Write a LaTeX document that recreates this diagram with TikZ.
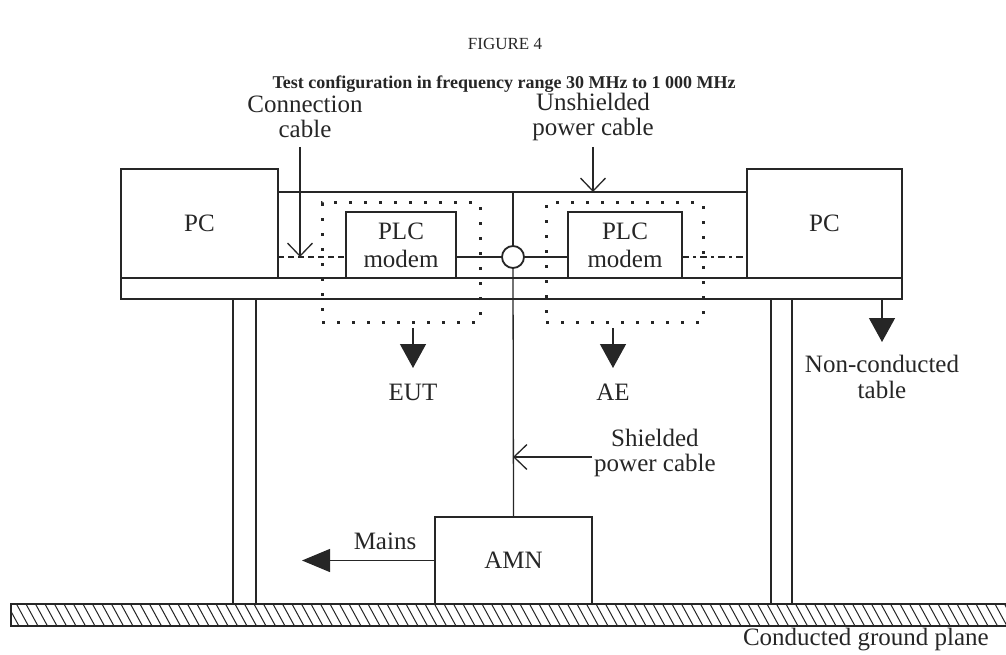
\documentclass[tikz,border=0pt]{standalone}
\usepackage{fontspec}
\setmainfont{Liberation Serif}
\usetikzlibrary{arrows.meta}
\definecolor{ink}{RGB}{38,38,38}
\tikzset{
  lbl/.style={font=\fontsize{25}{25.5}\selectfont, align=center, inner sep=0pt, text=ink},
  box/.style={draw=ink, line width=1.4pt, inner sep=0pt, outer sep=0pt,
              font=\fontsize{25}{28}\selectfont, align=center, text=ink},
  wire/.style={draw=ink, line width=1.3pt},
  pcable/.style={draw=ink, line width=2.8pt},
  dotbox/.style={draw=ink, line width=3pt, dash pattern=on 3pt off 12pt},
  openarrow/.style={-{Straight Barb[length=13pt,width=25pt,line width=1.3pt]}},
  fatarrow/.style={-{Triangle[length=24pt,width=26pt]}}
}
\begin{document}
\begin{tikzpicture}[x=1pt,y=-1pt]
\useasboundingbox (0,0) rectangle (1006,655);

% titles
\node[font=\fontsize{17}{19}\selectfont, text=ink] (fig) at (505,44) {FIGURE 4};
\node[font=\fontsize{18}{20}\selectfont\bfseries, text=ink] (title) at (504,84)
  {Test configuration in frequency range 30 MHz to 1 000 MHz};

% labels above
\node[lbl] (lcc) at (305,117) {Connection\\cable};
\node[lbl] (luc) at (593,117) {Unshielded\\power cable};

% dotted boxes
\node[dotbox, minimum width=158pt, minimum height=119pt, inner sep=0pt] (eut) at (401,262.5) {};
\node[dotbox, minimum width=157pt, minimum height=119pt, inner sep=0pt] (ae) at (624.5,262.5) {};

% PCs and table
\node[box, minimum width=157pt, minimum height=109pt] (lpc) at (199.5,223.5) {PC};
\node[box, minimum width=155pt, minimum height=109pt] (rpc) at (824.5,223.5) {PC};
\node[box, minimum width=781pt, minimum height=21pt] (table) at (511.5,288.5) {};
\node[box, minimum width=23pt, minimum height=305pt] (lleg) at (244.5,451.5) {};
\node[box, minimum width=21pt, minimum height=305pt] (rleg) at (781.5,451.5) {};

% PLC modems
\node[box, minimum width=110pt, minimum height=66pt] (lplc) at (401,245) {PLC\\modem};
\node[box, minimum width=114pt, minimum height=66pt] (rplc) at (625,245) {PLC\\modem};

% AMN
\node[box, minimum width=157pt, minimum height=87pt] (amn) at (513.5,560.5) {AMN};

% tee connector
\node[circle, draw=ink, line width=1.8pt, minimum size=22pt, inner sep=0pt, fill=white] (tee) at (513,257) {};
\coordinate (pwr) at (513,192);

% power cables
\draw[pcable] (lpc.east |- pwr) -- (rpc.west |- pwr);
\draw[pcable] (pwr) -- (tee.north);
\draw[pcable] (lplc.east |- tee) -- (tee.west);
\draw[pcable] (tee.east) -- (rplc.west |- tee);
\draw[wire] (tee.south) -- (amn.north);

% connection cables
\draw[draw=ink, line width=2pt, dash pattern=on 6pt off 4pt] (lpc.east |- tee) -- (lplc.west |- tee);
\draw[draw=ink, line width=2pt, dash pattern=on 7pt off 4pt on 3pt off 4pt] (rplc.east |- tee) -- (rpc.west |- tee);

% label arrows
\coordinate (ccs) at (300,147);
\draw[wire, openarrow] (ccs) -- (ccs |- tee);
\coordinate (ucs) at (593,147);
\draw[wire, openarrow] (ucs) -- (ucs |- pwr);

\coordinate (scs) at (592,457);
\draw[wire, openarrow] (scs) -- (tee |- scs);
\node[lbl, anchor=west] (lsc) at (594,453) {Shielded\\power cable};

% EUT / AE arrows
\coordinate (euts) at (413,328);
\draw[wire, fatarrow, fill=ink] (euts) -- ++(0,40);
\node[lbl] (leut) at (413,392) {EUT};
\coordinate (aes) at (613,328);
\draw[wire, fatarrow, fill=ink] (aes) -- ++(0,40);
\node[lbl] (lae) at (613,392) {AE};

% table arrow
\coordinate (nts) at (882,299);
\draw[wire, fatarrow, fill=ink] (nts) -- (882,342);
\node[lbl] (lnt) at (882,377) {Non-conducted\\table};

% mains
\draw[wire, -{Triangle[length=28pt,width=23pt]}, fill=ink] (amn.west) -- (302,560.5);
\node[lbl] (lmains) at (385,541) {Mains};

% ground plane
\begin{scope}
  \clip (11,604) rectangle (1006,626);
  \foreach \x in {-12,-2.5,...,1010} {
    \draw[ink, line width=1pt] (\x,604) -- (\x+12,626);
  }
\end{scope}
\draw[ink, line width=1.4pt] (1006,604) -- (11,604) -- (11,626) -- (1006,626);
\node[lbl, anchor=east] (lgp) at (989,640) {Conducted ground plane};
\end{tikzpicture}
\end{document}
